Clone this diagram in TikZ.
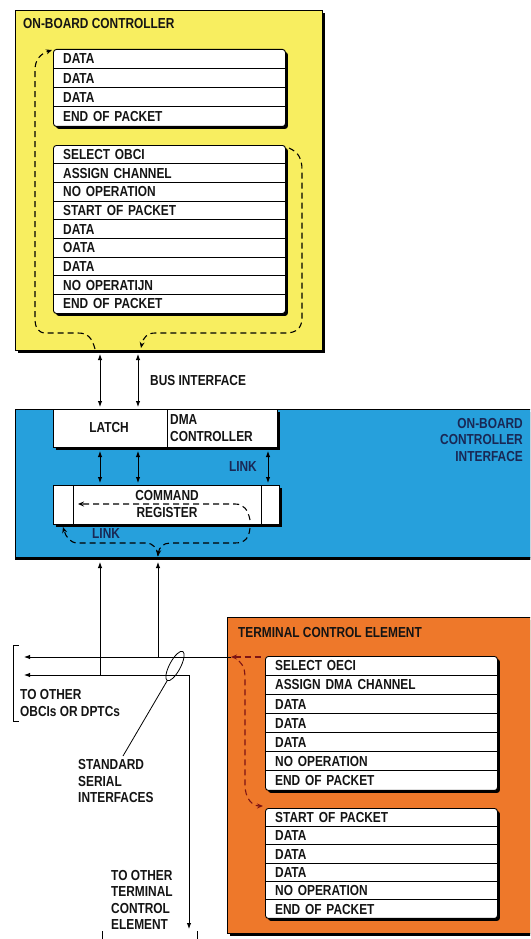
\documentclass[tikz,border=0pt]{standalone}
\usepackage{fontspec}
\newfontfamily\cond{Liberation Sans}[FakeStretch=0.82]
\usetikzlibrary{arrows.meta,shadows,shapes.geometric,positioning,calc}
\definecolor{ylw}{RGB}{248,238,96}
\definecolor{blu}{RGB}{38,160,220}
\definecolor{org}{RGB}{238,120,42}
\definecolor{navy}{RGB}{25,40,85}
\definecolor{dred}{RGB}{125,20,20}
\definecolor{ink}{RGB}{20,20,20}
\newcommand\lab{\cond\bfseries\fontsize{14.5}{16.5}\selectfont}
\newcommand\mkrows[6]{%
  \node[box, rounded corners=3pt, minimum width=232pt, minimum height={#4*#5}, anchor=north west] (#1) at (#2,#3) {};
  \foreach \t [count=\i] in {#6} {
    \node[row, minimum height=#4pt] (#1r\i) at (#2,{#3+#4*(\i-1)}) {\t};
    \ifnum\i>1 \draw[line width=0.8pt] (#1r\i.north west) -- (#1r\i.north east);\fi
  }
}
\tikzset{
  shad/.style={drop shadow={shadow xshift=2.5pt,shadow yshift=-2.5pt,fill=black,opacity=1}},
  box/.style={draw=black, line width=0.9pt, fill=white, shad, inner sep=0pt},
  panel/.style={draw=black, line width=0.9pt, anchor=north west, inner sep=0pt, shad},
  row/.style={anchor=north west, minimum width=232pt, text width=212pt, inner xsep=10pt, inner ysep=0pt, align=left, font=\lab, text=ink},
  lbl/.style={font=\lab, text=ink, inner sep=0pt, align=left},
  flow/.style={line width=1.1pt, dash pattern=on 6pt off 4pt, -{Stealth[length=6pt,width=5pt]}},
  bus/.style={line width=0.9pt, {Latex[length=6pt,width=4.5pt]}-{Latex[length=6pt,width=4.5pt]}},
  one/.style={line width=0.9pt, -{Latex[length=6pt,width=4.5pt]}},
}
\begin{document}
\begin{tikzpicture}[x=1pt,y=-1pt]
\useasboundingbox (0,0) rectangle (530,939);
\clip (0,0) rectangle (530,939);
\fill[white] (0,0) rectangle (530,939);

% ---------- On-board controller ----------
\node[panel, fill=ylw, minimum width=307pt, minimum height=340pt] (obc) at (15,10) {};
\node[lbl, anchor=west] (obct) at (23,24) {ON-BOARD CONTROLLER};
\mkrows{la}{53}{49}{19.25}{4}{DATA,DATA,DATA,END OF PACKET}
\mkrows{lb}{53}{145}{18.67}{9}{SELECT OBCI,ASSIGN CHANNEL,NO OPERATION,START OF PACKET,DATA,OATA,DATA,NO OPERATIJN,END OF PACKET}

% ---------- On-board controller interface ----------
\node[panel, fill=blu, minimum width=540pt, minimum height=148pt, line width=1.3pt] (obci) at (15,409) {};
\draw[line width=3pt] (obci.south west) -- (obci.south east);
\node[lbl, anchor=east, align=right, text=navy] (obcit) at (523,440) {ON-BOARD\\CONTROLLER\\INTERFACE};

\node[box, anchor=north west, minimum width=114pt, minimum height=38pt] (latch) at (53,409) {};
\node[box, anchor=north west, minimum width=110pt, minimum height=38pt] (dma) at (167,409) {};
\node[lbl, anchor=center] (latcht) at (109,428) {LATCH};
\node[lbl, anchor=west] (dmat) at (170,428) {DMA\\CONTROLLER};

\node[box, anchor=north west, minimum width=226pt, minimum height=39pt] (cmd) at (53,485) {};
\node[draw, line width=0.9pt, anchor=north west, minimum width=188pt, minimum height=39pt, inner sep=0pt] (cmdm) at (73,485) {};
\node[lbl, align=center, anchor=center] (cmdt) at (167,504) {COMMAND\\REGISTER};

% bus interface arrows
\coordinate (ba1) at (100,354); \coordinate (ba2) at (100,407);
\coordinate (bb1) at (138,354); \coordinate (bb2) at (138,407);
\draw[bus] (ba1) -- (ba2);
\draw[bus] (bb1) -- (bb2);
\node[lbl, anchor=west] (busl) at (150,381) {BUS INTERFACE};

% latch <-> command register
\coordinate (ca1) at (100,451); \coordinate (ca2) at (100,483);
\coordinate (cb1) at (138,451); \coordinate (cb2) at (138,483);
\coordinate (cc1) at (268,451); \coordinate (cc2) at (268,483);
\draw[bus] (ca1) -- (ca2);
\draw[bus] (cb1) -- (cb2);
\draw[bus] (cc1) -- (cc2);
\node[lbl, anchor=east, text=navy] (link1) at (257,467) {LINK};

% flows in on-board controller
\coordinate (fa0) at (95,349);
\coordinate (fa1) at (52,50);
\draw[flow] (fa0) .. controls (92,338) and (88,333) .. (78,333) -- (46,333) .. controls (38,333) and (35,328) .. (35,318) -- (35,70) .. controls (35,60) and (40,54) .. (fa1);
\coordinate (fb0) at (289,148);
\coordinate (fb1) at (141,348);
\draw[flow] (fb0) .. controls (298,152) and (302,158) .. (302,170) -- (302,318) .. controls (302,328) and (296,333) .. (286,333) -- (155,333) .. controls (147,333) and (143,338) .. (fb1);

% flows in command register and link
\coordinate (fc0) at (250,520); \coordinate (fc1) at (78,504);
\draw[flow] (fc0) .. controls (248,510) and (244,504) .. (235,504) -- (fc1);
\coordinate (fd0) at (250,528); \coordinate (fm) at (158,556); \coordinate (fd1) at (63,527);
\draw[flow] (fd0) .. controls (249,538) and (245,543) .. (235,543) -- (170,543) .. controls (163,543) and (159,548) .. (fm);
\draw[flow] (fm) .. controls (157,548) and (153,543) .. (146,543) -- (78,543) .. controls (70,543) and (66,537) .. (fd1);
\node[lbl, anchor=west, text=navy] (link2) at (92,534) {LINK};

% ---------- Terminal control element ----------
\node[panel, fill=org, minimum width=320pt, minimum height=316pt] (tce) at (227,617) {};
\node[lbl, anchor=west] (tcet) at (238,633) {TERMINAL CONTROL ELEMENT};
\mkrows{lc}{265}{656}{19.14}{7}{SELECT OECI,ASSIGN DMA CHANNEL,DATA,DATA,DATA,NO OPERATION,END OF PACKET}
\mkrows{ld}{265}{808}{18.33}{6}{START OF PACKET,DATA,DATA,DATA,NO OPERATION,END OF PACKET}
\coordinate (fe0) at (262,657); \coordinate (fe1) at (231,657);
\draw[flow, draw=dred, {Stealth[length=6pt,width=5pt]}-] (fe1) -- (fe0);
\coordinate (ff0) at (239,661); \coordinate (ff1) at (263,806);
\draw[flow, draw=dred] (ff0) .. controls (244,666) and (245,670) .. (245,680) -- (245,785) .. controls (245,798) and (252,806) .. (ff1);

% ---------- serial interfaces ----------
\coordinate (sa) at (231,657); \coordinate (sa1) at (24,657);
\draw[one] (sa) -- (sa1);
\coordinate (sb) at (24,675); \coordinate (sbc) at (189,675); \coordinate (sb1) at (189,929);
\draw[bus] (sb) -- (sbc) -- (sb1);
\coordinate (ua) at (100,675); \coordinate (ua1) at (100,562);
\coordinate (ub) at (158,657); \coordinate (ub1) at (158,562);
\draw[one] (ua) -- (ua1);
\draw[one] (ub) -- (ub1);

\draw[line width=0.9pt] (19,645) -- (13,645) -- (13,721) -- (19,721);
\node[lbl, anchor=west] (toobci) at (20,703) {TO OTHER\\OBCIs OR DPTCs};

\node[draw, ellipse, line width=0.8pt, minimum width=11pt, minimum height=33pt, inner sep=0pt, rotate=-28] (ell) at (175,666) {};
\node[lbl, anchor=west] (ssi) at (78,781) {STANDARD\\SERIAL\\INTERFACES};
\coordinate (ssit) at (123,756);
\draw[line width=0.8pt] (ell.south) -- (ssit);

\node[lbl, anchor=west] (totce) at (111,900) {TO OTHER\\TERMINAL\\CONTROL\\ELEMENT};
\draw[line width=0.9pt] (102,931) -- (102,939);
\draw[line width=0.9pt] (197,931) -- (197,939);
\end{tikzpicture}
\end{document}
